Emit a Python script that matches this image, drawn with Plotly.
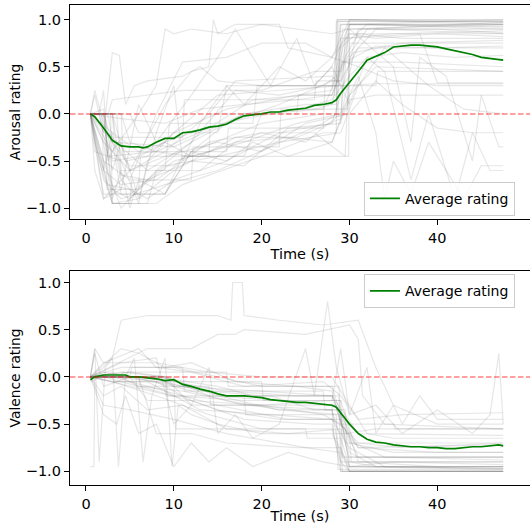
import plotly.graph_objects as go

# ---------------- data ----------------
avg_arousal_t = [0.5, 1, 2, 3, 4, 5, 6, 6.5, 7, 8, 9, 10, 11, 12, 13, 14, 15, 16, 17, 18, 19, 20,
                 21, 22, 23, 24, 25, 26, 27, 28, 28.5, 29, 30, 31, 32, 33, 34, 35, 36, 37, 38, 39,
                 40, 41, 42, 43, 44, 45, 46, 47, 47.5]
avg_arousal_v = [0.0, -0.03, -0.15, -0.28, -0.34, -0.35, -0.35, -0.36, -0.35, -0.30, -0.26, -0.26,
                 -0.20, -0.19, -0.17, -0.14, -0.13, -0.11, -0.06, -0.02, -0.01, 0.0, 0.02, 0.02,
                 0.04, 0.05, 0.06, 0.09, 0.10, 0.12, 0.15, 0.22, 0.33, 0.45, 0.57, 0.61, 0.65,
                 0.71, 0.72, 0.73, 0.73, 0.72, 0.71, 0.69, 0.67, 0.65, 0.63, 0.60, 0.59, 0.58, 0.57]

avg_valence_t = [0.5, 1, 2, 3, 4, 4.5, 5, 6, 7, 8, 9, 10, 11, 12, 13, 14, 15, 16, 17, 18, 19, 20,
                 21, 22, 23, 24, 25, 26, 27, 28, 28.5, 29, 30, 31, 32, 33, 34, 35, 36, 37, 38, 39,
                 40, 41, 42, 43, 44, 45, 46, 47, 47.5]
avg_valence_v = [-0.03, 0.0, 0.02, 0.02, 0.02, 0.02, 0.0, 0.0, -0.01, -0.02, -0.04, -0.03, -0.08,
                 -0.10, -0.13, -0.15, -0.18, -0.20, -0.20, -0.20, -0.21, -0.22, -0.24, -0.25,
                 -0.26, -0.27, -0.27, -0.28, -0.29, -0.30, -0.32, -0.38, -0.50, -0.60, -0.66,
                 -0.69, -0.70, -0.72, -0.73, -0.74, -0.74, -0.75, -0.75, -0.76, -0.76, -0.75,
                 -0.74, -0.74, -0.73, -0.72, -0.73]

# individual raters: (time, rating) breakpoints
arousal_raters = [
    [(0.5,0),(2,0),(3,-0.8),(5,-0.9),(8,-0.6),(12,-0.3),(18,0.0),(25,0.1),(28.5,0.1),(28.6,1.0),(47.5,1.0)],
    [(0.5,0),(1.5,-0.5),(3,-0.95),(6,-0.95),(7,-0.5),(10,-0.2),(15,0.2),(22,0.25),(29,0.3),(30,0.9),(47.5,0.95)],
    [(0.5,0),(2.5,0),(4,-0.85),(9,-0.85),(12,-0.4),(20,-0.1),(27,0.0),(28.7,0.0),(28.8,0.98),(47.5,0.98)],
    [(0.5,0),(1,-0.3),(2,-0.6),(4,-0.75),(8,-0.7),(14,-0.3),(20,-0.2),(26,-0.2),(29.5,-0.45),(30,0.6),(33,0.9),(47.5,0.85)],
    [(0.5,0),(3,0),(4.5,-0.5),(7,-0.45),(10,-0.2),(16,0.05),(24,0.2),(28,0.25),(29,0.7),(32,0.95),(47.5,0.9)],
    [(0.5,0),(1,0.2),(2,-0.2),(3,0.65),(3.8,0.62),(4.5,0.1),(5.5,0.3),(7,0.35),(11,0.4),(13,0.5),(15,0.35),(20,0.3),(26,0.3),(28,0.5),(30,0.95),(47.5,0.92)],
    [(0.5,0),(2,-0.3),(5,-0.6),(9,0.1),(12,0.45),(14,0.5),(14.5,1.0),(15,0.85),(17,0.95),(22,0.95),(23,0.7),(28,0.6),(30,1.0),(47.5,0.97)],
    [(0.5,0),(4,0),(5,-0.3),(8,-0.4),(12,-0.45),(20,-0.45),(28,-0.45),(29.9,-0.45),(30,0.75),(47.5,0.75)],
    [(0.5,0),(2,-0.5),(4,-1.0),(6,-0.8),(10,-0.5),(14,-0.4),(20,-0.2),(25,-0.3),(29,0.0),(31,0.4),(33,-0.2),(34,-0.9),(35,-0.5),(37,-0.85),(39,-0.3),(41,-0.6),(43,-0.9),(45,-0.55),(47.5,-0.55)],
    [(0.5,0),(1,0.25),(2,-0.1),(3,-0.6),(4,-0.3),(6,-0.9),(8,-0.2),(10,0.3),(11,-0.5),(13,-0.1),(16,0.3),(18,0.1),(22,0.5),(25,0.35),(28,0.6),(31,0.5),(35,0.35),(40,0.3),(47.5,0.3)],
    [(0.5,0),(3,-0.2),(6,-0.4),(12,-0.2),(18,-0.05),(24,0.05),(28,0.15),(30,0.4),(32,0.6),(36,0.65),(42,0.6),(47.5,0.62)],
    [(0.5,0),(2,-0.7),(4,-0.9),(9,-0.75),(15,-0.6),(21,-0.35),(27,-0.1),(28.5,0.0),(29,0.8),(35,0.85),(47.5,0.88)],
    [(0.5,0),(1.5,0),(2.5,-0.45),(8,-0.4),(14,-0.15),(19,0.15),(25,0.2),(28,0.2),(29.5,0.55),(33,0.72),(40,0.7),(47.5,0.72)],
    [(0.5,0),(2,-0.9),(4,-0.8),(6,0.1),(8,-0.3),(12,0.2),(15,0.6),(17,0.9),(19,0.6),(21,0.3),(24,0.8),(26,0.3),(28,0.5),(30,0.1),(32,0.6),(34,0.45),(37,-0.7),(39,0.0),(42,-0.9),(44,-0.2),(46,-0.6),(47.5,-0.6)],
    [(0.5,0),(5,0),(6,-0.2),(15,-0.2),(16,0.3),(28,0.3),(29,0.95),(47.5,0.93)],
    [(0.5,0),(2,-0.3),(3,-0.95),(7,-0.95),(8,-0.6),(13,-0.6),(17,-0.3),(23,-0.25),(28,-0.3),(30,0.2),(33,0.5),(47.5,0.45)],
    [(0.5,0),(3,-0.4),(6,0.0),(8,0.3),(9,0.9),(10,0.85),(12,0.9),(16,0.85),(20,0.95),(24,0.9),(28,0.85),(30,0.9),(35,0.5),(37,-0.3),(38,0.6),(41,0.4),(44,-0.5),(45,0.2),(47,-0.35),(47.5,-0.35)],
    [(0.5,0),(1,-0.2),(2.5,-0.75),(5,-0.8),(7,-0.9),(10,-0.7),(16,-0.5),(22,-0.2),(28,-0.1),(29,0.2),(31,0.9),(47.5,0.97)],
    [(0.5,0),(4,-0.05),(9,-0.1),(13,0.05),(18,0.1),(24,0.15),(28,0.2),(29.5,0.6),(31,0.85),(36,0.8),(47.5,0.8)],
    [(0.5,0),(2,-0.6),(3,-0.2),(4,-0.7),(5.5,-0.85),(9,-0.85),(11,-0.45),(18,-0.45),(20,0.0),(27,0.05),(29,0.5),(32,0.9),(40,0.9),(47.5,0.86)],
    [(0.5,0),(1,-0.6),(2,-0.9),(5,-0.6),(9,-0.45),(15,-0.3),(20,-0.4),(25,-0.1),(30,0.0),(33,0.35),(36,0.1),(40,-0.15),(44,-0.2),(47.5,-0.2)],
    [(0.5,0),(3,-0.3),(5,-0.55),(10,-0.55),(16,-0.1),(22,0.1),(28,0.35),(29,0.35),(31,0.7),(47.5,0.7)],
    [(0.5,0),(2,0.05),(3,-0.5),(6,-0.45),(9,-0.3),(12,-0.45),(18,-0.3),(24,-0.1),(29,0.0),(30,0.95),(47.5,1.0)],
    [(0.5,0),(1.5,-0.1),(4,-0.35),(7,-0.6),(12,-0.3),(17,0.25),(22,0.2),(27,0.3),(28.5,0.4),(30,1.0),(47.5,0.95)],
    [(0.5,0),(2,-0.5),(5,-0.7),(8,0.0),(11,0.55),(16,0.6),(20,0.75),(25,0.75),(28,0.6),(30,0.85),(33,0.8),(40,0.85),(47.5,0.82)],
    [(0.5,0),(2,0),(3,-0.3),(10,-0.35),(18,0.0),(26,0.05),(28,0.1),(29,0.55),(36,0.55),(47.5,0.5)],
    [(0.5,0),(2,-0.85),(5,-0.85),(9,-0.55),(15,-0.45),(22,-0.3),(29,-0.2),(31,0.3),(34,0.7),(39,0.3),(43,0.05),(47.5,0.0)],
    [(0.5,0),(1,-0.4),(4,-0.5),(6,-0.95),(8,-0.95),(11,-0.75),(20,-0.45),(27,-0.2),(28.5,-0.2),(28.6,1.0),(47.5,0.99)],
    [(0.5,0),(3.5,0),(4,-0.6),(9,-0.6),(9.5,-0.1),(19,-0.1),(19.5,0.3),(28.8,0.3),(29,0.95),(47.5,0.95)],
    [(0.5,0),(2.8,0),(3,-0.95),(5,-0.95),(5.2,-0.7),(12,-0.7),(12.2,-0.35),(22,-0.35),(22.2,0.05),(29.8,0.05),(30,0.85),(47.5,0.85)],
    [(0.5,0),(3,0),(3.2,-0.25),(11,-0.25),(11.2,0.15),(26,0.15),(26.2,0.35),(29,0.35),(29.2,0.9),(47.5,0.9)],
    [(0.5,0),(2.2,0),(2.4,-0.8),(6,-0.8),(6.2,-0.45),(14,-0.45),(14.2,0.0),(24,0.0),(24.2,0.2),(28.3,0.2),(28.5,0.98),(47.5,0.98)],
    [(0.5,0),(4,0),(4.2,-0.4),(16,-0.4),(16.2,-0.15),(27,-0.15),(27.2,0.3),(33,0.3),(33.2,0.45),(47.5,0.45)],
    [(0.5,0),(1.8,0),(2,-0.6),(3,-0.95),(6,-0.9),(10,-0.6),(17,-0.25),(24,-0.25),(29,-0.05),(30.5,0.65),(36,0.75),(47.5,0.78)],
    [(0.5,0),(2.5,0),(3,0.15),(7,0.2),(11,0.25),(20,0.25),(26,0.45),(29,0.45),(30,0.95),(47.5,0.95)],
    [(0.5,0),(3,0),(4,-0.65),(7,-0.7),(12,-0.5),(18,-0.55),(23,-0.15),(29,-0.1),(29.5,0.8),(38,0.85),(40,0.33),(47.5,0.33)],
    [(0.5,0),(1.5,0),(2,0.25),(2.5,-0.5),(3.5,-0.3),(5,-0.6),(9,-0.4),(14,0.0),(17,0.35),(28,0.4),(29,0.3),(33,0.32),(47.5,0.32)],
    [(0.5,0),(2,0),(3,-0.9),(4,-0.6),(5,-1.0),(6,-0.7),(9,-0.85),(12,-0.4),(16,-0.5),(19,-0.3),(23,-0.45),(28,-0.3),(30,0.15),(33,0.2),(47.5,0.2)],
]

valence_raters = [
    [(0.5,0),(8,0),(10,-0.1),(18,-0.3),(28,-0.35),(29,-0.9),(30,-1.0),(47.5,-1.0)],
    [(0.5,0),(5,0.05),(9,0),(14,-0.2),(22,-0.25),(28.5,-0.3),(30,-0.8),(33,-0.95),(47.5,-0.95)],
    [(0.5,0),(2,0.1),(3,0.2),(4,0.6),(7,0.65),(15,0.65),(16.5,0.6),(16.7,1.0),(17.8,1.0),(18,0.65),(22,0.6),(27,0.55),(31,0.6),(33,0.1),(35,-0.3),(40,-0.5),(47.5,-0.5)],
    [(0.5,0),(7,0.3),(12,0.3),(15,0.45),(17,0.45),(18,0.5),(25,0.45),(30,0.55),(31,0.4),(31.5,-0.2),(34,-0.5),(47.5,-0.55)],
    [(0.5,0),(1,0.3),(1.5,-0.9),(2.2,0.1),(3,0.2),(3.7,-0.95),(4.5,0.0),(5.5,0.2),(6.5,-0.9),(7.5,-0.2),(9,0.2),(9.8,-0.95),(10.5,-0.3),(12,-0.4),(15,-0.5),(20,-0.6),(28,-0.6),(30,-0.95),(47.5,-0.95)],
    [(0.5,0),(3,-0.05),(8,-0.2),(14,-0.4),(20,-0.55),(28,-0.55),(29,-0.9),(47.5,-0.9)],
    [(0.5,0),(6,0.0),(10,-0.05),(16,-0.15),(24,-0.2),(28,-0.2),(29.5,-0.6),(33,-0.55),(47.5,-0.55)],
    [(0.5,0),(4,0.1),(10,0.1),(15,0.0),(20,-0.1),(28,-0.1),(30,-0.7),(35,-0.8),(47.5,-0.8)],
    [(0.5,0),(2,-0.3),(5,-0.35),(10,-0.45),(16,-0.6),(25,-0.75),(29,-0.8),(30,-1.0),(47.5,-1.0)],
    [(0.5,0),(9,0.0),(12,-0.3),(20,-0.3),(27,-0.4),(29,-0.5),(31,-0.75),(47.5,-0.72)],
    [(0.5,-0.05),(3,0.05),(6,-0.1),(11,-0.15),(16,-0.25),(22,-0.35),(28,-0.35),(30,-0.95),(47.5,-0.98)],
    [(0.5,0),(4,0.15),(8,0.2),(10,-0.5),(12,-0.3),(14,0.1),(15,-0.6),(17,-0.4),(19,-0.65),(22,-0.5),(25,0.3),(26,-0.2),(27.5,0.8),(28.5,0.1),(30,-0.4),(33,-0.3),(36,-0.6),(40,-0.35),(44,-0.6),(46,-0.4),(47,0.25),(47.5,-0.5)],
    [(0.5,0),(5,0.0),(7,-0.25),(12,-0.25),(18,-0.45),(26,-0.5),(28,-0.5),(29,-1.0),(47.5,-1.0)],
    [(0.5,0),(2,0.15),(8,0.15),(14,0.05),(20,0.0),(28,0.0),(30,-0.3),(32,-0.6),(35,-0.65),(47.5,-0.65)],
    [(0.5,0),(2,-0.4),(3.5,-0.5),(4.5,-0.2),(6,-0.6),(8,-0.5),(10,-0.95),(12,-0.7),(14,-0.9),(16,-0.75),(19,-0.95),(23,-0.8),(27,-0.9),(30,-0.95),(35,-0.9),(47.5,-0.93)],
    [(0.5,0),(3,-0.05),(7,-0.05),(13,-0.35),(21,-0.4),(28,-0.45),(29.5,-0.55),(31,-0.85),(47.5,-0.85)],
    [(0.5,0),(4,0.3),(6,0.25),(9,0.1),(12,0.15),(17,-0.05),(24,-0.1),(28,-0.15),(29,-0.5),(31,-0.7),(36,-0.75),(47.5,-0.7)],
    [(0.5,0),(8,0.0),(15,-0.1),(19,-0.2),(28,-0.2),(28.8,-0.2),(29,-1.0),(47.5,-1.0)],
    [(0.5,0),(5,-0.1),(12,-0.25),(20,-0.3),(28,-0.25),(29,0.3),(30,-0.4),(32,0.1),(33,-0.6),(35,-0.3),(36,-0.5),(38,-0.2),(40,-0.45),(47.5,-0.45)],
    [(0.5,0),(3,0.0),(9,-0.15),(15,-0.3),(23,-0.45),(29,-0.45),(30,-0.9),(33,-0.95),(47.5,-0.97)],
    [(0.5,0),(1,0.25),(2,-0.1),(5,0.0),(10,-0.1),(20,-0.15),(28,-0.2),(31,-0.6),(47.5,-0.62)],
    [(0.5,0),(6,0.0),(8,-0.6),(12,-0.6),(16,-0.7),(24,-0.75),(29,-0.75),(30,-1.0),(47.5,-1.0)],
    [(0.5,0),(2,0.0),(6,-0.1),(10,-0.2),(18,-0.25),(29,-0.25),(30.5,-0.7),(34,-0.85),(47.5,-0.88)],
    [(0.5,-0.95),(0.9,-0.95),(1.0,0.0),(3,0.0),(8,-0.05),(14,-0.15),(20,-0.2),(28,-0.2),(29,-0.4),(30,-0.95),(47.5,-0.95)],
    [(0.5,0),(4,0.05),(9,0.0),(15,-0.2),(22,-0.35),(29,-0.4),(31,-0.75),(40,-0.8),(47.5,-0.8)],
    [(0.5,0),(9,0),(9.2,-0.2),(18,-0.2),(18.2,-0.4),(28.5,-0.4),(28.7,-0.98),(47.5,-0.98)],
    [(0.5,0),(6,0),(6.2,-0.1),(14,-0.1),(14.2,-0.3),(28,-0.3),(28.2,-0.6),(30,-0.6),(30.2,-0.9),(47.5,-0.9)],
    [(0.5,0),(5,0),(5.2,0.1),(11,0.1),(11.2,-0.15),(27,-0.15),(27.2,-0.35),(29.5,-0.35),(29.7,-0.7),(47.5,-0.7)],
    [(0.5,0),(3,0),(3.2,-0.05),(20,-0.05),(20.2,-0.25),(29,-0.25),(29.2,-0.85),(47.5,-0.85)],
    [(0.5,0),(10,0),(10.2,-0.55),(25,-0.55),(25.2,-0.65),(29,-0.65),(29.2,-1.0),(47.5,-1.0)],
    [(0.5,0),(4,0),(4.2,0.05),(16,0.05),(16.2,-0.1),(28.8,-0.1),(29,-0.5),(35,-0.5),(35.2,-0.55),(47.5,-0.55)],
    [(0.5,0),(2,0.05),(8,-0.05),(12,-0.25),(15,-0.35),(22,-0.45),(28,-0.45),(30,-0.75),(34,-0.95),(47.5,-0.97)],
    [(0.5,0),(1,0.3),(2,0.15),(6,0.3),(8,0.1),(12,0.05),(18,-0.1),(27,-0.05),(29,-0.2),(31,-0.45),(36,-0.4),(47.5,-0.38)],
    [(0.5,0),(2,-0.2),(4,-0.1),(7,-0.35),(11,-0.3),(16,-0.55),(23,-0.6),(29,-0.55),(30,-0.85),(47.5,-0.85)],
    [(0.5,0),(7,0),(11,-0.1),(16,-0.2),(21,-0.2),(26,-0.35),(29,-0.35),(31,-0.9),(40,-0.95),(47.5,-0.95)],
]

x_ticks = [0, 10, 20, 30, 40]
y_ticks = [-1.0, -0.5, 0.0, 0.5, 1.0]
x_title = "Time (s)"
y_titles = ["Arousal rating", "Valence rating"]
legend_label = "Average rating"

# ---------------- figure ----------------
FONT = "DejaVu Sans"
GRAY = "rgba(110,110,110,0.17)"
GREEN = "#008000"

fig = go.Figure()

panels = [
    ("x", "y", arousal_raters, avg_arousal_t, avg_arousal_v, "legend"),
    ("x2", "y2", valence_raters, avg_valence_t, avg_valence_v, "legend2"),
]
for xa, ya, raters, at, av, lg in panels:
    for r in raters:
        fig.add_trace(go.Scatter(x=[p[0] for p in r], y=[p[1] for p in r], mode="lines",
                                 line=dict(color=GRAY, width=1.2), xaxis=xa, yaxis=ya,
                                 showlegend=False, hoverinfo="skip"))
    fig.add_trace(go.Scatter(x=at, y=av, mode="lines", name=legend_label,
                             line=dict(color=GREEN, width=1.7), xaxis=xa, yaxis=ya,
                             legend=lg))
    fig.add_shape(type="line", xref=f"{xa} domain", yref=ya, x0=0, x1=1, y0=0, y1=0,
                  line=dict(color="rgba(255,0,0,0.5)", width=1.5, dash="5.5px,2.5px"),
                  layer="above")

axis_common = dict(
    showgrid=False, zeroline=False, showline=True, linecolor="black", linewidth=1.25,
    ticks="outside", ticklen=5, tickwidth=1.25, tickcolor="black",
    tickfont=dict(family=FONT, size=14.5, color="black"),
)
xr = [-1.82, 50.55]
fig.update_layout(
    width=530, height=524,
    margin=dict(l=70, r=0, t=5, b=37),
    plot_bgcolor="white", paper_bgcolor="white",
    font=dict(family=FONT, color="black"),
    xaxis=dict(**axis_common, domain=[0, 1], anchor="y", range=xr, tickvals=x_ticks,
               mirror=True, title=dict(text=x_title, font=dict(size=14.5), standoff=2)),
    yaxis=dict(**axis_common, domain=[0.5539, 1.0], anchor="x", range=[-1.116, 1.155],
               tickvals=y_ticks, tickformat=".1f",
               title=dict(text=y_titles[0], font=dict(size=13.75), standoff=1)),
    xaxis2=dict(**axis_common, domain=[0, 1], anchor="y2", range=xr, tickvals=x_ticks,
                mirror=True, title=dict(text=x_title, font=dict(size=14.5), standoff=2)),
    yaxis2=dict(**axis_common, domain=[0.0, 0.4461], anchor="x2", range=[-1.145, 1.123],
                tickvals=y_ticks, tickformat=".1f",
                title=dict(text=y_titles[1], font=dict(size=13.75), standoff=1)),
    legend=dict(x=0.9673, y=0.5965, xanchor="right", yanchor="middle",
                bgcolor="rgba(255,255,255,0.8)", bordercolor="#cccccc", borderwidth=1,
                font=dict(family=FONT, size=14, color="black")),
    legend2=dict(x=0.9673, y=0.4035, xanchor="right", yanchor="middle",
                 bgcolor="rgba(255,255,255,0.8)", bordercolor="#cccccc", borderwidth=1,
                 font=dict(family=FONT, size=14, color="black")),
    showlegend=True,
)

fig.write_html("out.html", config={"displayModeBar": False},
               post_script="document.body.style.margin='0px';")
